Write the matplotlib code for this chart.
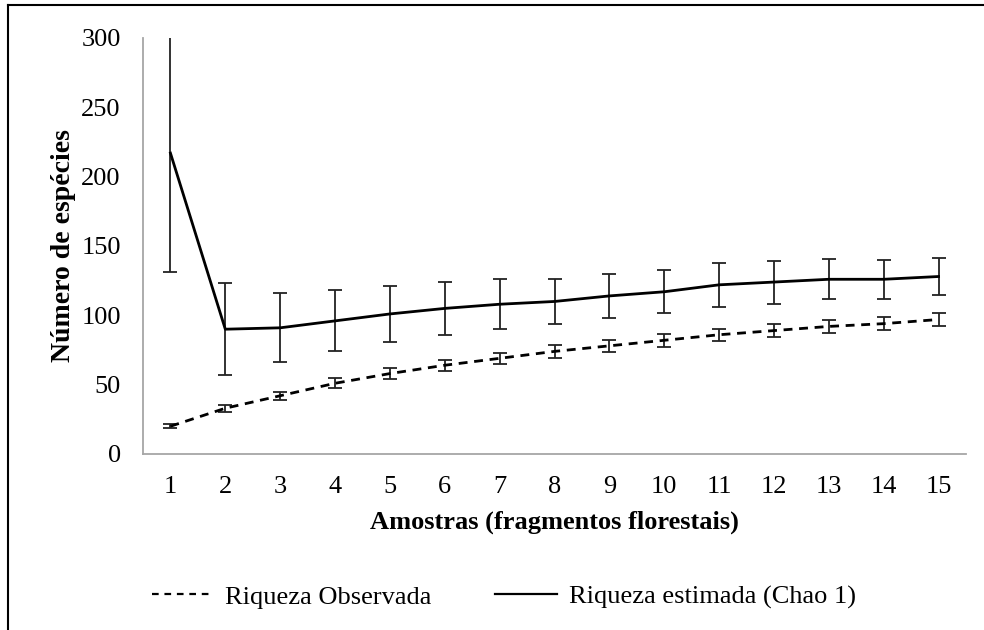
import numpy as np
import matplotlib
matplotlib.use("Agg")
import matplotlib.pyplot as plt
from matplotlib.lines import Line2D

# sample index (forest fragments)
amostras = np.arange(1, 16)
x_labels = [str(i) for i in amostras]

# observed richness (dashed) and its error
riqueza_obs = [20, 33, 42, 51, 58, 64, 69, 74, 78, 82, 86, 89, 92, 94, 97]
riqueza_obs_err = [1.5, 2.5, 3, 3.5, 4, 4, 4, 4.5, 4.5, 4.5, 4.5, 4.5, 4.5, 4.5, 4.5]

# Chao 1 estimated richness (solid) and its error
riqueza_chao = [217, 90, 91, 96, 101, 105, 108, 110, 114, 117, 122, 124, 126, 126, 128]
riqueza_chao_err = [86, 33, 25, 22, 20, 19, 18, 16, 16, 15.5, 16, 15.5, 14.5, 14, 13]

y_ticks = [0, 50, 100, 150, 200, 250, 300]

plt.rcParams["font.family"] = ["Liberation Serif", "DejaVu Serif"]

W, H = 984, 630
fig = plt.figure(figsize=(W / 100, H / 100), dpi=100)
ax = fig.add_axes([143 / W, 1 - 454 / H, (966 - 143) / W, (454 - 38) / H])

ax.errorbar(amostras, riqueza_obs, yerr=riqueza_obs_err, color="black",
            linestyle=(0, (3.2, 2.4)), linewidth=2.0, ecolor="#222222",
            elinewidth=1.3, capsize=5, capthick=1.3)
ax.errorbar(amostras, riqueza_chao, yerr=riqueza_chao_err, color="black",
            linestyle="-", linewidth=2.0, ecolor="#222222",
            elinewidth=1.3, capsize=5, capthick=1.3)

ax.set_xlim(0.5, 15.5)
ax.set_ylim(0, 300)
ax.set_xticks(amostras)
ax.set_xticklabels(x_labels)
ax.set_yticks(y_ticks)
ax.tick_params(length=0, pad=16, labelsize=19)

for side in ["top", "right"]:
    ax.spines[side].set_visible(False)
for side in ["left", "bottom"]:
    ax.spines[side].set_color("#a6a6a6")
    ax.spines[side].set_linewidth(1.3)

ax.set_xlabel("Amostras (fragmentos florestais)", fontsize=19,
              fontweight="bold", labelpad=9)
ax.set_ylabel("Número de espécies", fontsize=20, fontweight="bold", labelpad=4)

handles = [
    Line2D([], [], color="black", linestyle=(0, (3.0, 2.6)), linewidth=1.6),
    Line2D([], [], color="black", linestyle="-", linewidth=1.6),
]
fig.legend(handles, ["Riqueza Observada", "Riqueza estimada (Chao 1)"],
           loc="center", bbox_to_anchor=(0.512, 1 - 597 / H), ncol=2,
           frameon=False, fontsize=19, handlelength=2.35, handletextpad=0.45,
           columnspacing=2.4)

# outer frame (top and left edges visible)
fig.add_artist(Line2D([8 / W, 1], [1 - 5 / H, 1 - 5 / H], color="black",
                      linewidth=1.5, transform=fig.transFigure))
fig.add_artist(Line2D([8 / W, 8 / W], [0, 1 - 5 / H], color="black",
                      linewidth=1.5, transform=fig.transFigure))

fig.savefig("out.png", dpi=100)
